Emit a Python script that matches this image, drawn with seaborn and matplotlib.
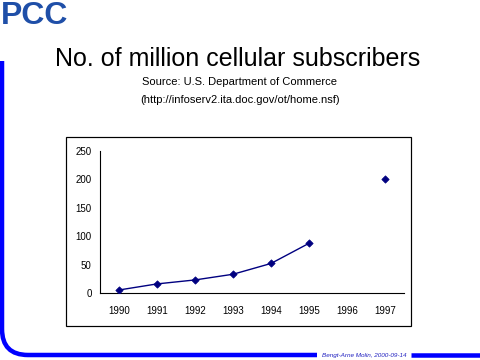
import numpy as np
import pandas as pd
import matplotlib
matplotlib.use("Agg")
import matplotlib.pyplot as plt
import seaborn as sns
from matplotlib.patches import Rectangle
from matplotlib.path import Path
from matplotlib.patches import PathPatch

# values (1996 has no value)
years = ["1990", "1991", "1992", "1993", "1994", "1995", "1996", "1997"]
subscribers = [5.3, 16, 23, 33, 52, 87.5, np.nan, 200]
y_ticks = [0, 50, 100, 150, 200, 250]

TITLE = "No. of million cellular subscribers"
SOURCE = "Source: U.S. Department of Commerce"
URL = "(http://infoserv2.ita.doc.gov/ot/home.nsf)"
FOOTER = "Bengt-Arne Molin, 2000-09-14"

NAVY = "#000080"
BLUE = "#0000ff"

sns.set_style("white")
plt.rcParams["font.family"] = ["Liberation Sans", "DejaVu Sans"]
plt.rcParams["text.color"] = "black"
plt.rcParams["xtick.color"] = "black"
plt.rcParams["ytick.color"] = "black"
plt.rcParams["axes.labelcolor"] = "black"

W, H = 480, 360
fig = plt.figure(figsize=(W / 100, H / 100), dpi=100)

# slide decorations drawn in pixel coordinates
deco = fig.add_axes([0, 0, 1, 1])
deco.set_xlim(0, W)
deco.set_ylim(H, 0)
deco.axis("off")

px = 0.72  # points per pixel
r = 26
verts = [(2, 61), (2, 355 - r), (2, 355), (2 + r, 355), (317, 355)]
codes = [Path.MOVETO, Path.LINETO, Path.CURVE3, Path.CURVE3, Path.LINETO]
deco.add_patch(PathPatch(Path(verts, codes), fill=False, edgecolor=BLUE,
                         lw=4.5 * px, capstyle="butt"))
deco.plot([411, 480], [355, 355], color=BLUE, lw=4.5 * px, solid_capstyle="butt")
deco.text(364.5, 355, FOOTER, color="#2020c0", fontsize=4.6, style="italic",
          ha="center", va="center")

deco.text(1, 1, "PCC", color="#1f4fa8", fontsize=23, fontweight="bold",
          fontstretch="condensed", ha="left", va="top")

deco.text(238, 59, TITLE, fontsize=18, ha="center", va="center")
deco.text(240, 82, SOURCE, fontsize=8, ha="center", va="center")
deco.text(240, 100, URL, fontsize=8, ha="center", va="center")

deco.add_patch(Rectangle((66, 137), 345, 189, fill=False, edgecolor="black",
                         lw=1.2 * px))

# chart area
ax = fig.add_axes([100 / W, (H - 293) / H, 304 / W, 142 / H])
ax.patch.set_alpha(0)

df = pd.DataFrame({"year": years, "value": subscribers})
df["pos"] = np.arange(len(years))
df["seg"] = df["value"].isna().cumsum()
valid = df.dropna()

sns.lineplot(data=valid, x="pos", y="value", units="seg", estimator=None,
             color=NAVY, lw=1.0, ax=ax)
sns.scatterplot(data=valid, x="pos", y="value", marker="D", s=14,
                color=NAVY, edgecolor=NAVY, linewidth=0.5, ax=ax, zorder=3)

ax.set_xlim(-0.5, len(years) - 0.5)
ax.set_ylim(0, 250)
ax.set_yticks(y_ticks)
ax.set_yticklabels([str(t) for t in y_ticks])
ax.set_xticks(np.arange(-0.5, len(years)), minor=False)
ax.set_xticklabels([])
ax.set_xticks(df["pos"], minor=True)
ax.set_xticklabels(years, minor=True)
ax.tick_params(axis="x", which="minor", length=0, pad=9, labelsize=7)
ax.tick_params(axis="x", which="major", length=3, width=0.8, direction="out",
               color="black")
ax.tick_params(axis="y", length=3, width=0.8, direction="out", color="black",
               labelsize=7, pad=3)
ax.set_xlabel("")
ax.set_ylabel("")
sns.despine(ax=ax)
for s in ["left", "bottom"]:
    ax.spines[s].set_color("black")
    ax.spines[s].set_linewidth(0.8)

fig.savefig("out.png", dpi=100)
